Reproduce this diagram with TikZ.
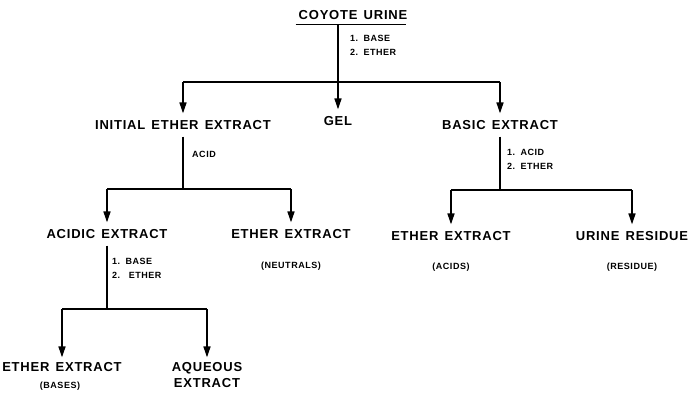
\documentclass[tikz,border=0pt]{standalone}
\usepackage{fontspec}
\usetikzlibrary{arrows.meta}
\newfontfamily\lettering{Liberation Sans}[LetterSpace=6, WordSpace=1.4]
\tikzset{
  main/.style={font=\lettering\bfseries\fontsize{13}{16}\selectfont, inner sep=7pt, outer sep=0pt},
  note/.style={font=\lettering\bfseries\fontsize{9}{14}\selectfont, align=left, anchor=west, inner sep=0pt},
  flow/.style={line width=1.6pt},
  arr/.style={flow, -{Triangle[width=7pt,length=11pt]}},
}
\begin{document}
\begin{tikzpicture}[x=1pt, y=-1pt]
   \useasboundingbox (0,0) rectangle (694,399);
   % top of the tree
   \node[main, inner sep=5pt] (coyote) at (353,15) {COYOTE URINE};
   \draw[flow] ([xshift=2pt]coyote.south west) -- ([xshift=-6pt]coyote.south east);
   \coordinate (j1) at (338,82);
   \draw[flow] (j1 |- coyote.south) -- (j1);
   \node[note] (step1) at (350,45) {1. BASE\\2. ETHER};

   % first split
   \node[main] (initial) at (183,125) {INITIAL ETHER EXTRACT};
   \node[main] (gel) at (338,121) {GEL};
   \node[main] (basic) at (500,125) {BASIC EXTRACT};
   \draw[flow] (initial |- j1) -- (basic |- j1);
   \draw[arr] (initial |- j1) -- (initial.north);
   \draw[arr] (j1) -- (gel.north);
   \draw[arr] (basic |- j1) -- (basic.north);

   % initial ether extract
   \coordinate (j2) at (183,189);
   \draw[flow] (initial.south) -- (j2);
   \node[note] (step2) at (192,154) {ACID};
   \node[main] (acidic) at (107,234) {ACIDIC EXTRACT};
   \node[main] (neutral) at (291,234) {ETHER EXTRACT};
   \node[note, anchor=center] (neutralnote) at (291,266) {(NEUTRALS)};
   \draw[flow] (acidic |- j2) -- (neutral |- j2);
   \draw[arr] (acidic |- j2) -- (acidic.north);
   \draw[arr] (neutral |- j2) -- (neutral.north);

   % basic extract
   \coordinate (j3) at (500,190);
   \draw[flow] (basic.south) -- (j3);
   \node[note] (step3) at (507,159) {1. ACID\\2. ETHER};
   \node[main] (acids) at (451,236) {ETHER EXTRACT};
   \node[main] (residue) at (632,236) {URINE RESIDUE};
   \node[note, anchor=center] (acidsnote) at (451,267) {(ACIDS)};
   \node[note, anchor=center] (residuenote) at (632,267) {(RESIDUE)};
   \draw[flow] (acids |- j3) -- (residue |- j3);
   \draw[arr] (acids |- j3) -- (acids.north);
   \draw[arr] (residue |- j3) -- (residue.north);

   % acidic extract
   \coordinate (j4) at (107,309);
   \draw[flow] (acidic.south) -- (j4);
   \node[note] (step4) at (112,268) {1. BASE\\2.\ \ ETHER};
   \node[main, inner sep=5pt] (bases) at (62,367) {ETHER EXTRACT};
   \node[note, anchor=center] (basesnote) at (60,386) {(BASES)};
   \node[main, align=center, inner sep=5pt] (aqueous) at (207,375) {AQUEOUS\\EXTRACT};
   \draw[flow] (bases |- j4) -- (aqueous |- j4);
   \draw[arr] (bases |- j4) -- (bases.north);
   \draw[arr] (aqueous |- j4) -- (aqueous.north);
\end{tikzpicture}
\end{document}
